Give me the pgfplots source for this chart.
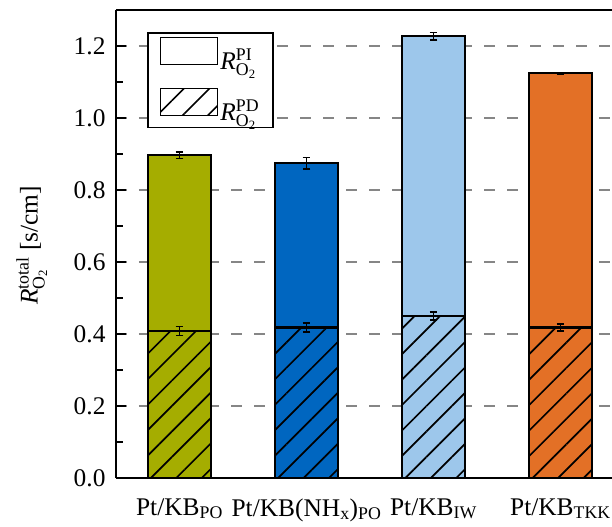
\documentclass[border=0pt]{standalone}
\usepackage{fontspec}
\setmainfont{Liberation Serif}
\usepackage{amsmath}
\usepackage{pgfplots}
\pgfplotsset{compat=1.18}
\usetikzlibrary{patterns.meta}
\definecolor{cOlive}{HTML}{A5AD00}
\definecolor{cBlue}{HTML}{0066C0}
\definecolor{cLight}{HTML}{9DC7EB}
\definecolor{cOrange}{HTML}{E37026}
\newcommand{\RO}[1]{\textit{R}$^{\text{#1}}_{\text{O}_{\text{2}}}$}
\pgfplotsset{
  mybar/.style={ybar, bar width=0.5, bar shift=0pt, fill=#1, draw=black, line width=2.2bp, forget plot,
    error bars/y dir=both, error bars/y explicit,
    error bars/error bar style={line width=1.4bp, black, solid},
    error bars/error mark options={rotate=90, mark size=3.8bp, line width=1.4bp, black, solid}},
  hatchbar/.style={mybar=#1, postaction={pattern={Lines[angle=45,distance=18bp,line width=1.7bp]}}}
}
\begin{document}
\begin{tikzpicture}
\useasboundingbox (-116bp,-49bp) rectangle (496bp,478bp);
\begin{axis}[
  at={(0,0)}, anchor=south west,
  scale only axis, width=496bp, height=468bp,
  xmin=-0.5, xmax=3.406, ymin=0, ymax=1.3,
  axis x line*=box, axis y line*=left,
  axis line style={line width=2.2bp},
  xtick={0,1,2,3},
  xticklabels={Pt/KB\textsubscript{PO}, Pt/KB(NH\textsubscript{x})\textsubscript{PO}, Pt/KB\textsubscript{IW}, Pt/KB\textsubscript{TKK}},
  x tick style={draw=none},
  ytick={0,0.2,0.4,0.6,0.8,1.0,1.2},
  minor y tick num=1,
  tick align=inside,
  major tick length=10bp, minor tick length=7bp,
  y tick style={line width=2.2bp, black},
  tick label style={font=\fontsize{25.5}{30}\selectfont},
  /pgf/number format/assume math mode=true,
  yticklabel style={/pgf/number format/.cd, fixed, fixed zerofill, precision=1, /tikz/.cd, xshift=-7bp},
  xticklabel style={yshift=-17bp},
  ymajorgrids,
  major grid style={line width=2.4bp, color=gray!95, dash pattern=on 11bp off 12bp},
  ylabel={\textit{R}$^{\text{total}}_{\text{O}_{\text{2}}}$ [s/cm]},
  every axis y label/.style={at={(axis description cs:-0.17,0.497)}, rotate=90, anchor=center, font=\fontsize{25.5}{30}\selectfont},
  legend style={at={(axis description cs:0.0625,0.953)}, anchor=north west, draw=black, line width=1.6bp,
    font=\fontsize{25.5}{30}\selectfont, row sep=15bp, inner xsep=12bp, inner ysep=4bp, cells={anchor=west}},
]
\addlegendimage{legend image code/.code={\draw[line width=1.6bp, fill=white] (0bp,-5bp) rectangle (57bp,22bp);}}
\addlegendentry{\RO{PI}}
\addlegendimage{legend image code/.code={\draw[line width=1.6bp, fill=white, postaction={pattern={Lines[angle=45,distance=18bp,line width=1.6bp]}}] (0bp,-5bp) rectangle (57bp,22bp);}}
\addlegendentry{\RO{PD}}
% total bars
\addplot[mybar=cOlive]  coordinates {(0,0.897) +- (0,0.009)};
\addplot[mybar=cBlue]   coordinates {(1,0.874) +- (0,0.016)};
\addplot[mybar=cLight]  coordinates {(2,1.227) +- (0,0.010)};
\addplot[mybar=cOrange] coordinates {(3,1.124) +- (0,0.003)};
% PD bars
\addplot[hatchbar=cOlive]  coordinates {(0,0.408) +- (0,0.012)};
\addplot[hatchbar=cBlue]   coordinates {(1,0.418) +- (0,0.012)};
\addplot[hatchbar=cLight]  coordinates {(2,0.450) +- (0,0.011)};
\addplot[hatchbar=cOrange] coordinates {(3,0.418) +- (0,0.010)};
\end{axis}
\end{tikzpicture}
\end{document}
